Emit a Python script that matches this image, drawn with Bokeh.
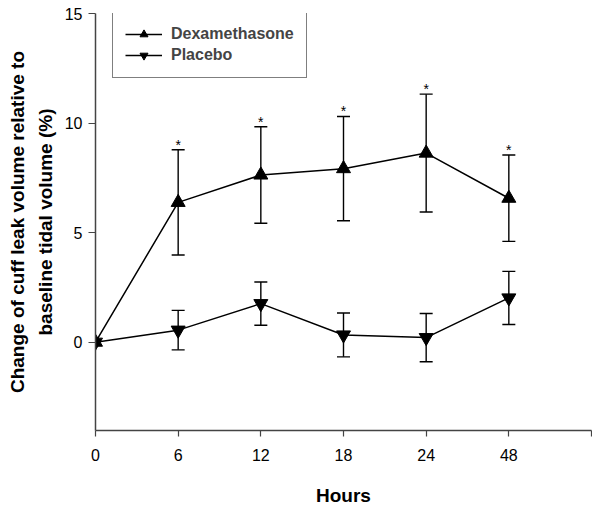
from bokeh.plotting import figure
from bokeh.models import (ColumnDataSource, Whisker, TeeHead, Legend, LegendItem,
                          FixedTicker, Range1d)
from bokeh.core.properties import value
from bokeh.embed import file_html
from bokeh.resources import INLINE

hours = ["0", "6", "12", "18", "24", "48"]
dex_mean = [0.0, 6.38, 7.63, 7.92, 8.63, 6.57]
dex_err = [0.0, 2.40, 2.20, 2.38, 2.69, 1.97]
plc_mean = [0.0, 0.55, 1.76, 0.33, 0.21, 2.02]
plc_err = [0.0, 0.90, 0.99, 1.00, 1.10, 1.21]
stars = ["", "*", "*", "*", "*", "*"]

FONT = "Liberation Sans"
xs = list(range(len(hours)))

p = figure(width=592, height=508, x_range=Range1d(0, 6), y_range=Range1d(-4.03, 15),
           output_backend="svg", toolbar_location=None,
           min_border_left=95, min_border_right=1, min_border_top=13, min_border_bottom=75)
p.outline_line_color = None
p.grid.visible = False

# axes
for ax in (p.xaxis[0], p.yaxis[0]):
    ax.axis_line_color = "#444444"
    ax.axis_line_width = 1.5
    ax.major_tick_line_color = "#444444"
    ax.major_tick_line_width = 1.2
    ax.major_tick_in = 0
    ax.minor_tick_line_color = None
    ax.major_label_text_font = FONT
    ax.major_label_text_font_size = "16px"
    ax.major_label_text_color = "black"
    ax.axis_label_text_font = FONT
    ax.axis_label_text_font_style = "bold"
    ax.axis_label_text_font_size = "19px"
    ax.axis_label_text_color = "black"

p.xaxis.ticker = FixedTicker(ticks=list(range(len(hours) + 1)))
overrides = {i: h for i, h in enumerate(hours)}
overrides[len(hours)] = ""
p.xaxis.major_label_overrides = overrides
p.xaxis.major_tick_out = 6
p.xaxis.major_label_standoff = 12
p.xaxis.axis_label = "Hours"
p.xaxis.axis_label_standoff = 21

p.yaxis.ticker = FixedTicker(ticks=[0, 5, 10, 15])
p.yaxis.major_tick_out = 7
p.yaxis.major_label_standoff = 6
p.yaxis.axis_label = "Change of cuff leak volume relative to\nbaseline tidal volume (%)"
p.yaxis.axis_label_standoff = 6
p.yaxis.axis_label_text_line_height = 1.3

# data sources
dex_src = ColumnDataSource(dict(x=xs, y=dex_mean,
                                upper=[m + e for m, e in zip(dex_mean, dex_err)],
                                lower=[m - e for m, e in zip(dex_mean, dex_err)],
                                star=stars))
plc_src = ColumnDataSource(dict(x=xs, y=plc_mean))

dex_w = ColumnDataSource(dict(
    x=[x for x, e in zip(xs, dex_err) if e > 0],
    upper=[m + e for m, e in zip(dex_mean, dex_err) if e > 0],
    lower=[m - e for m, e in zip(dex_mean, dex_err) if e > 0]))
plc_w = ColumnDataSource(dict(
    x=[x for x, e in zip(xs, plc_err) if e > 0],
    upper=[m + e for m, e in zip(plc_mean, plc_err) if e > 0],
    lower=[m - e for m, e in zip(plc_mean, plc_err) if e > 0]))

for src in (dex_w, plc_w):
    w = Whisker(base="x", upper="upper", lower="lower", source=src,
                line_color="black", line_width=1.4,
                upper_head=TeeHead(size=13, line_color="black", line_width=1.4),
                lower_head=TeeHead(size=13, line_color="black", line_width=1.4))
    p.add_layout(w)

l1 = p.line("x", "y", source=dex_src, line_color="black", line_width=1.5)
s1 = p.scatter("x", "y", source=dex_src, marker="triangle", size=14,
               fill_color="black", line_color="black")
l2 = p.line("x", "y", source=plc_src, line_color="black", line_width=1.5)
s2 = p.scatter("x", "y", source=plc_src, marker="inverted_triangle", size=14,
               fill_color="black", line_color="black")

p.text("x", "upper", text="star", source=dex_src, text_align="center",
       text_baseline="alphabetic", y_offset=-5, text_font=value(FONT),
       text_font_size="14px", text_color="black")

legend = Legend(items=[LegendItem(label="Dexamethasone", renderers=[l1, s1]),
                       LegendItem(label="Placebo", renderers=[l2, s2])],
                location=(17, 352), margin=0, padding=12, spacing=1,
                glyph_width=37, glyph_height=20, label_height=20, label_standoff=9,
                label_text_font=FONT, label_text_font_style="bold",
                label_text_font_size="16px", border_line_color="black",
                border_line_width=1, background_fill_color="white")
p.add_layout(legend)

open("out.html", "w").write(file_html(p, INLINE))
